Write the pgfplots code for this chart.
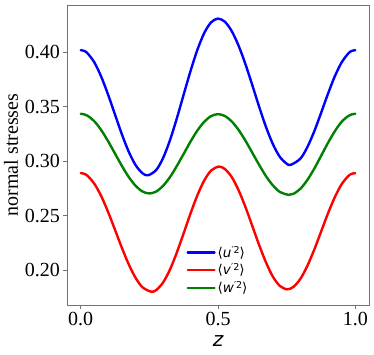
\documentclass[border=0pt]{standalone}
\usepackage{fontspec}
\setmainfont{Liberation Serif}
\newfontfamily\dejavu{DejaVu Sans}
\usepackage{pgfplots}
\pgfplotsset{compat=1.18}

\definecolor{mblue}{RGB}{0,0,255}
\definecolor{mred}{RGB}{255,0,0}
\definecolor{mgreen}{RGB}{0,128,0}

\newcommand{\ent}[1]{{\dejavu\fontsize{13.5bp}{16bp}\selectfont ⟨\textit{#1}\raisebox{0.55ex}{\fontsize{9.5bp}{10bp}\selectfont ′2}⟩}}

\begin{document}
\begin{tikzpicture}
\begin{axis}[
    scale only axis,
    width=302bp, height=300bp,
    xmin=-0.05, xmax=1.05,
    ymin=0.1678, ymax=0.4435,
    xtick={0,0.5,1},
    ytick={0.20,0.25,0.30,0.35,0.40},
    /pgf/number format/assume math mode=true,
    xticklabel style={/pgf/number format/.cd,fixed,fixed zerofill,precision=1},
    yticklabel style={/pgf/number format/.cd,fixed,fixed zerofill,precision=2},
    ticklabel style={font=\fontsize{20bp}{22bp}\selectfont},
    tick pos=left,
    tick align=outside,
    major tick length=3.5bp,
    tick style={draw=black!55, line width=0.8bp},
    axis line style={draw=black!55, line width=0.9bp},
    xlabel={{\dejavu\itshape z}},
    xlabel style={yshift=-3bp},
    ylabel={normal stresses},
    label style={font=\fontsize{20bp}{22bp}\selectfont},
    legend style={at={(0.5,0.023)}, anchor=south, draw=none, fill=none,
        legend cell align=left, row sep=1bp},
    legend image code/.code={\draw[#1, line width=2.2bp] (0bp,0bp) -- (27bp,0bp);},
    every axis plot/.append style={line width=2.4bp, smooth, line join=round, line cap=round},
]
\addplot[mblue] coordinates {
(0,0.4020)(0.0125,0.4013)(0.025,0.3991)(0.05,0.3906)(0.075,0.3774)(0.1,0.3609)(0.125,0.3427)
(0.15,0.3246)(0.175,0.3086)(0.2,0.2963)(0.225,0.2889)(0.245,0.2870)(0.275,0.2919)
(0.3,0.3029)(0.325,0.3192)(0.35,0.3393)(0.375,0.3612)(0.4,0.3829)(0.425,0.4024)
(0.45,0.4178)(0.475,0.4276)(0.5,0.4310)(0.525,0.4281)(0.55,0.4195)(0.575,0.4061)
(0.6,0.3891)(0.625,0.3698)(0.65,0.3499)(0.675,0.3313)(0.7,0.3156)(0.725,0.3040)
(0.75,0.2977)(0.765,0.2966)(0.8,0.3023)(0.825,0.3127)(0.85,0.3270)(0.875,0.3440)
(0.9,0.3615)(0.925,0.3777)(0.95,0.3906)(0.975,0.3991)(0.9875,0.4013)(1,0.4020)
};
\addlegendentry{\ent{u}}
\addplot[mred] coordinates {
(0,0.2890)(0.0125,0.2884)(0.025,0.2865)(0.05,0.2791)(0.075,0.2677)(0.1,0.2531)(0.125,0.2368)
(0.15,0.2203)(0.175,0.2051)(0.2,0.1927)(0.225,0.1841)(0.257,0.1800)(0.275,0.1815)
(0.3,0.1885)(0.325,0.2003)(0.35,0.2160)(0.375,0.2338)(0.4,0.2520)(0.425,0.2687)
(0.45,0.2823)(0.475,0.2914)(0.503,0.2950)(0.525,0.2928)(0.55,0.2854)(0.575,0.2733)
(0.6,0.2578)(0.625,0.2404)(0.65,0.2228)(0.675,0.2068)(0.7,0.1938)(0.725,0.1854)
(0.752,0.1822)(0.775,0.1845)(0.8,0.1918)(0.825,0.2035)(0.85,0.2183)(0.875,0.2349)
(0.9,0.2516)(0.925,0.2666)(0.95,0.2787)(0.975,0.2864)(0.9875,0.2884)(1,0.2890)
};
\addlegendentry{\ent{v}}
\addplot[mgreen] coordinates {
(0,0.3435)(0.0125,0.3430)(0.025,0.3417)(0.05,0.3365)(0.075,0.3284)(0.1,0.3182)(0.125,0.3069)
(0.15,0.2956)(0.175,0.2854)(0.2,0.2773)(0.225,0.2721)(0.25,0.2703)(0.275,0.2721)
(0.3,0.2773)(0.325,0.2853)(0.35,0.2955)(0.375,0.3067)(0.4,0.3180)(0.425,0.3282)
(0.45,0.3362)(0.475,0.3414)(0.5,0.3432)(0.525,0.3415)(0.55,0.3365)(0.575,0.3287)
(0.6,0.3188)(0.625,0.3077)(0.65,0.2965)(0.675,0.2861)(0.7,0.2777)(0.725,0.2718)
(0.757,0.2690)(0.775,0.2700)(0.8,0.2746)(0.825,0.2825)(0.85,0.2928)(0.875,0.3046)
(0.9,0.3165)(0.925,0.3273)(0.95,0.3361)(0.975,0.3416)(0.9875,0.3430)(1,0.3435)
};
\addlegendentry{\ent{w}}
\end{axis}
\pgfresetboundingbox
\path (current axis.south west) ++(-67bp,-50bp) rectangle ++(374bp,355bp);
\end{tikzpicture}
\end{document}
